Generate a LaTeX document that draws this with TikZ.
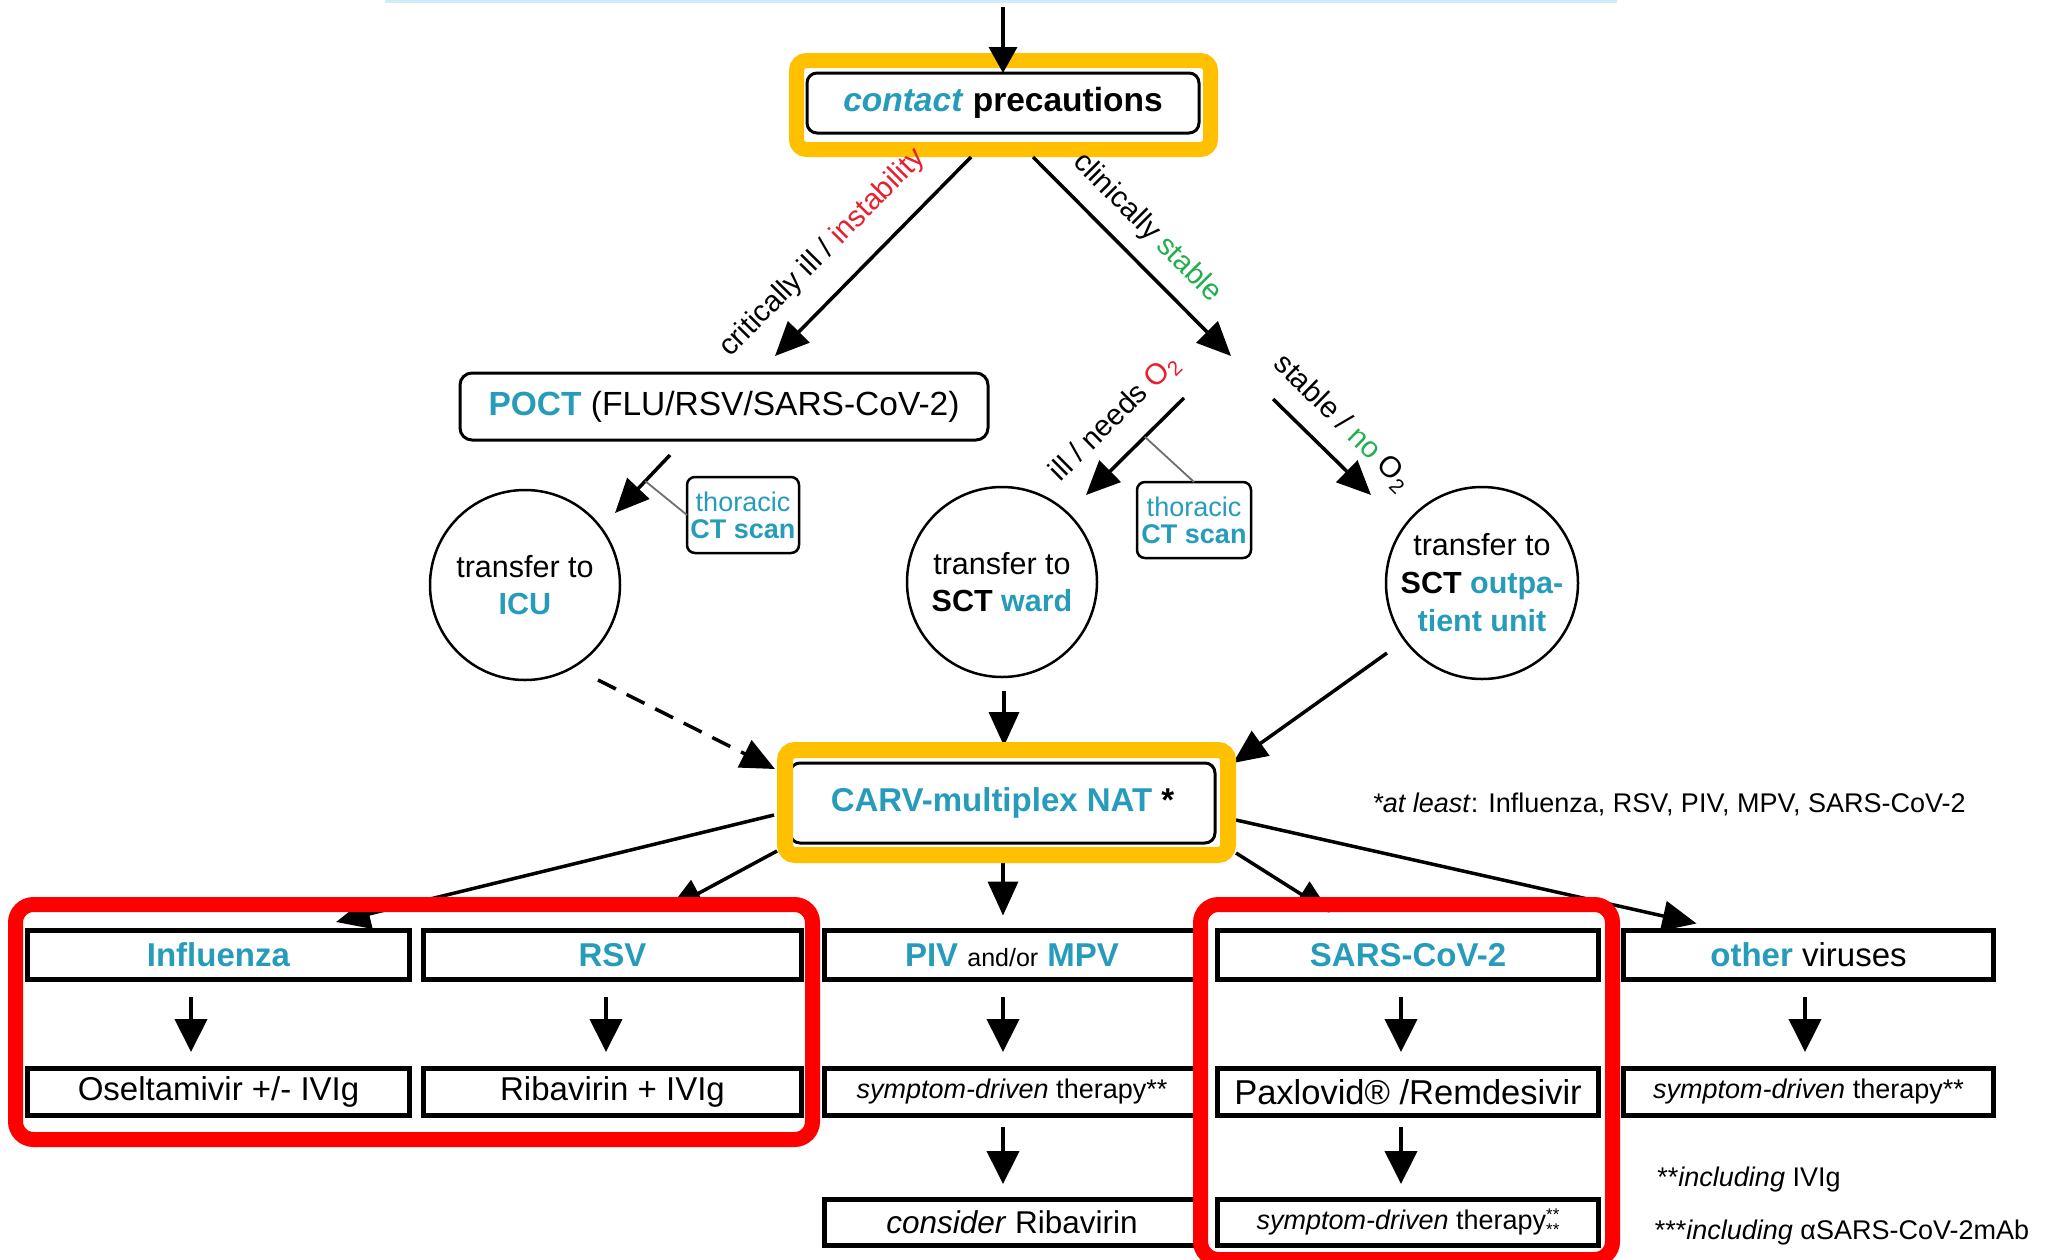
\documentclass[tikz,border=0pt]{standalone}
\usepackage{fontspec}
\setmainfont{Liberation Sans}
\usetikzlibrary{arrows.meta,calc}
\definecolor{tl}{RGB}{38,156,186}
\definecolor{rd}{RGB}{235,30,45}
\definecolor{gr}{RGB}{35,175,80}
\definecolor{og}{RGB}{255,192,0}
\definecolor{hr}{RGB}{255,0,0}
\definecolor{lb}{RGB}{205,238,248}
\definecolor{gl}{RGB}{110,110,110}
\newcommand\fsz[2]{\fontsize{#1pt}{#2pt}\selectfont}
\begin{document}
\begin{tikzpicture}[x=1pt,y=-1pt,
  rbox/.style={draw, line width=3pt, rounded corners=10pt, inner sep=0pt, outer sep=0pt, align=center},
  hlo/.style={draw=og, line width=15pt, rounded corners=10pt, inner sep=0pt, outer sep=0pt},
  hlr/.style={draw=hr, line width=15pt, rounded corners=18pt, inner sep=0pt, outer sep=0pt},
  rowbox/.style={draw, line width=5pt, inner sep=0pt, outer sep=0pt, minimum height=49pt, font=\fsz{33}{40}},
  rowboxb/.style={rowbox, minimum height=47pt},
  rowboxc/.style={rowbox, minimum height=46pt},
  circ/.style={draw, circle, line width=2.5pt, minimum size=190pt, inner sep=0pt, outer sep=0pt, align=center, font=\fsz{30.5}{37}},
  ctbox/.style={draw, line width=2.5pt, rounded corners=8pt, inner sep=0pt, outer sep=0pt, align=center, text=tl, font=\fsz{27}{27}, minimum width=112pt, minimum height=76pt},
  arr/.style={line width=3.5pt, -{Triangle[length=34pt,width=30pt]}},
  darr/.style={line width=4pt, -{Triangle[length=33pt,width=32pt]}},
  thinl/.style={draw=gl, line width=1.8pt},
  lab/.style={inner sep=0pt, font=\fsz{29.5}{34}},
  foot/.style={inner sep=0pt, font=\fsz{27}{32}}
]
\fill[white] (0,0) rectangle (2053,1259);
\useasboundingbox (0,0) rectangle (2053,1259);

% faint line at the top
\draw[lb, line width=3pt] (385,1.5) -- (1617,1.5);

% top
\node[rbox, minimum width=392pt, minimum height=60pt, font=\fsz{33.5}{40}] (contact) at (1003,103)
  {\textcolor{tl}{\textbf{\textit{contact}}} \textbf{precautions}};
\node[hlo, minimum width=414pt, minimum height=89pt] (hl1) at (1003.5,105) {};

\node[rbox, rounded corners=12pt, minimum width=528pt, minimum height=67pt, font=\fsz{33.5}{40}] (poct) at (724,406.5)
  {\textcolor{tl}{\textbf{POCT}} (FLU/RSV/SARS-CoV-2)};

\node[circ] (icu) at (525,585) {transfer to\\\textcolor{tl}{\textbf{ICU}}};
\node[circ] (ward) at (1002,582) {transfer to\\\textbf{SCT} \textcolor{tl}{\textbf{ward}}};
\node[circ, minimum size=192pt, font=\fsz{30.5}{38}] (outp) at (1482,583)
  {transfer to\\\textbf{SCT} \textcolor{tl}{\textbf{outpa-}}\\\textcolor{tl}{\textbf{tient unit}}};

\node[ctbox] (ctl) at (743,515) {thoracic\\\textbf{CT scan}};
\node[ctbox, minimum width=114pt] (ctm) at (1194,520) {thoracic\\\textbf{CT scan}};

% CARV
\node[rbox, minimum width=425pt, minimum height=80pt, font=\fsz{33}{40}] (carv) at (1002.5,803)
  {\textcolor{tl}{\textbf{CARV-multiplex NAT}} \textbf{*}};

% row 1
\node[rowbox, minimum width=382pt] (infl) at (218.5,955) {\textcolor{tl}{\textbf{Influenza}}};
\node[rowbox, minimum width=378pt] (rsv) at (612.5,955) {\textcolor{tl}{\textbf{RSV}}};
\node[rowbox, minimum width=375.5pt] (piv) at (1012,955)
  {\textcolor{tl}{\textbf{PIV}} {\fsz{25}{30}and/or} \textcolor{tl}{\textbf{MPV}}};
\node[rowbox, minimum width=381pt] (sars) at (1408,955) {\textcolor{tl}{\textbf{SARS-CoV-2}}};
\node[rowbox, minimum width=370pt] (oth) at (1808.5,955) {\textcolor{tl}{\textbf{other}} viruses};

% row 2
\node[rowboxb, minimum width=382pt] (osel) at (218.5,1092) {Oseltamivir +/- IVIg};
\node[rowboxb, minimum width=378pt] (riba) at (612.5,1092) {Ribavirin + IVIg};
\node[rowboxb, minimum width=375.5pt, font=\fsz{27}{32}] (sym1) at (1012,1092) {\textit{symptom-driven} therapy**};
\node[rowboxb, minimum width=381pt, font=\fsz{34.5}{40}] (pax) at (1408,1092) {Paxlovid® /Remdesivir};
\node[rowboxb, minimum width=370pt, font=\fsz{27}{32}] (sym2) at (1808.5,1092) {\textit{symptom-driven} therapy**};

% row 3
\node[rowboxc, minimum width=375.5pt, font=\fsz{31.5}{36}] (cons) at (1012,1222) {\textit{consider} Ribavirin};
\node[rowboxc, minimum width=381pt, font=\fsz{27}{32}] (sym3) at (1408,1222)
  {\textit{symptom-driven} therapy\raisebox{-6pt}{\fsz{17}{10}\shortstack[c]{**\\***}}};

% labels
\node[lab, rotate=45.4] (l1) at (823,253) {critically ill / \textcolor{rd}{instability}};
\node[lab, rotate=-45.1] (l2) at (1147,228) {clinically \textcolor{gr}{stable}};
\node[lab, rotate=44.7] (l3) at (1115,418) {ill / needs \textcolor{rd}{O\textsubscript{2}}};
\node[lab, rotate=-44.4] (l4) at (1342,423) {stable / \textcolor{gr}{no} O\textsubscript{2}};

% footnotes
\node[foot] (f1) at (1669,804) {\textit{*at least}: Influenza, RSV, PIV, MPV, SARS-CoV-2};
\node[foot] (f2) at (1749,1180) {**\textit{including} IVIg};
\node[foot] (f3) at (1842,1232) {***\textit{including} αSARS-CoV-2mAb};

% connectors
\coordinate (topin) at (1003,7);
\draw[arr, -{Triangle[length=26pt,width=28pt]}] (topin) -- (contact.north);
\draw[arr] ($(contact.south)+(-32,24)$) -- ($(poct.north)+(51,-17)$);
\coordinate (stab) at (1231,356);
\draw[arr] ($(contact.south)+(30,24)$) -- (stab);

\draw[arr] ($(poct.south)+(-54,15)$) coordinate (a1s) -- ($(icu)+(90,-72)$) coordinate (a1e);
\draw[thinl] ($(a1s)!0.45!(a1e)$) -- (ctl.west);

\draw[arr] ($(stab)+(-47,42)$) coordinate (a2s) -- ($(ward)+(84,-87)$) coordinate (a2e);
\draw[thinl] ($(a2s)!0.4!(a2e)$) -- (ctm.north);
\draw[arr] ($(stab)+(42,43)$) -- ($(outp)+(-111,-88)$);

\draw[arr, dash pattern=on 20pt off 12pt] ($(icu)+(73,95)$) -- ($(carv.west)+(-15,-34)$);
\draw[arr] ($(ward.south)+(2,14)$) -- ($(carv.north)+(1.5,-17)$);
\draw[arr] ($(outp)+(-95,70)$) -- ($(carv.north east)+(18,0)$);

\draw[arr] ($(carv.west)+(-16,12)$) -- ($(infl.north)+(117.5,-8.5)$);
\draw[arr] ($(carv.south west)+(-13,8)$) -- ($(rsv.north)+(56,-21)$);
\draw[arr] ($(carv.south)+(0.5,20)$) -- ($(piv.north)+(-9,-15)$);
\draw[arr] ($(carv.south east)+(21,10)$) -- ($(sars.north)+(-78,-18)$);
\draw[arr] ($(carv.east)+(21,17)$) -- ($(oth.north)+(-112,-7)$);

\draw[darr] ($(infl.south)+(-27.5,17.5)$) -- ($(osel.north)+(-27.5,-16.5)$);
\draw[darr] ($(rsv.south)+(-6.5,17.5)$) -- ($(riba.north)+(-6.5,-16.5)$);
\draw[darr] ($(piv.south)+(-9,17.5)$) -- ($(sym1.north)+(-9,-16.5)$);
\draw[darr] ($(sars.south)+(-7,17.5)$) -- ($(pax.north)+(-7,-16.5)$);
\draw[darr] ($(oth.south)+(-3.5,17.5)$) -- ($(sym2.north)+(-3.5,-16.5)$);
\draw[darr] ($(sym1.south)+(-9,11.5)$) -- ($(cons.north)+(-9,-15)$);
\draw[darr] ($(pax.south)+(-7,11.5)$) -- ($(sym3.north)+(-7,-15)$);

% highlights
\node[hlo, line width=16pt, minimum width=443pt, minimum height=105pt] (hl2) at (1006.5,802.5) {};
\node[hlr, minimum width=797pt, minimum height=235pt] (red1) at (414,1022) {};
\node[hlr, minimum width=412pt, minimum height=355pt] (red2) at (1406.5,1082) {};
\end{tikzpicture}
\end{document}
